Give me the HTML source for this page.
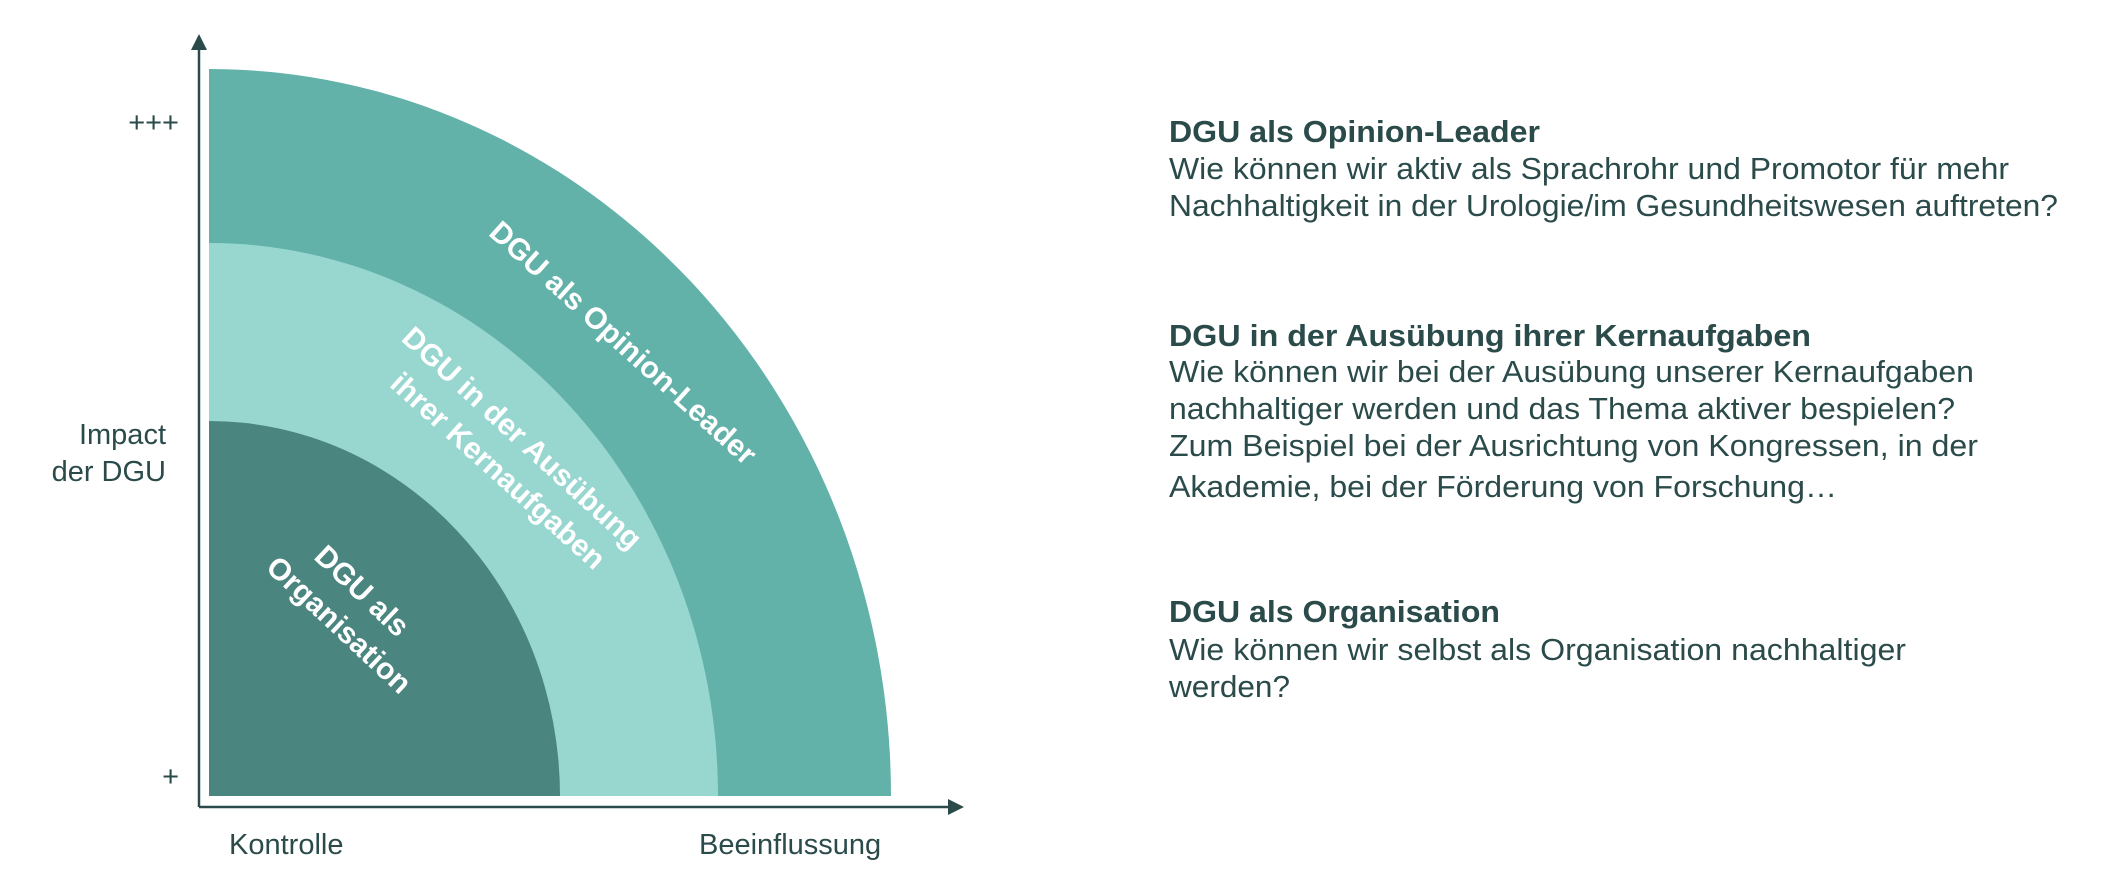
<!DOCTYPE html>
<html><head><meta charset="utf-8"><style>
html,body{margin:0;padding:0;background:#fff;}
svg{display:block;}
text{font-family:"Liberation Sans",Arial,sans-serif;}
</style></head><body>
<svg width="2122" height="886" viewBox="0 0 2122 886" xmlns="http://www.w3.org/2000/svg">
<path d="M209 796 V69 A682 727 0 0 1 891 796 Z" fill="#62b2aa"/>
<path d="M209 796 V243 A509 553 0 0 1 718 796 Z" fill="#98d6d0"/>
<path d="M209 796 V421 A351 375 0 0 1 560 796 Z" fill="#4a857f"/>
<g stroke="#2b4b4b" stroke-width="2.5" fill="none">
<line x1="199" y1="48" x2="199" y2="807"/>
<line x1="199" y1="807" x2="950" y2="807"/>
</g>
<polygon points="199,34 191,50 207,50" fill="#2b4b4b"/>
<polygon points="964,807 948,799 948,815" fill="#2b4b4b"/>
<g fill="#2b4b4b" font-size="29">
<text x="179" y="132" text-anchor="end">+++</text>
<text x="179" y="786" text-anchor="end">+</text>
<text x="166" y="444" text-anchor="end">Impact</text>
<text x="166" y="481" text-anchor="end">der DGU</text>
<text x="229" y="854">Kontrolle</text>
<text x="699" y="854">Beeinflussung</text>
</g>
<g fill="#fff" font-weight="bold" font-size="30" text-anchor="middle">
<text transform="translate(623,343) rotate(42)" y="10">DGU als Opinion-Leader</text>
<text transform="translate(522,438) rotate(42.5)" y="10">DGU in der  Ausübung</text>
<text transform="translate(498,471) rotate(42)" y="10">ihrer Kernaufgaben</text>
<text transform="translate(362,591) rotate(43.5)" y="10">DGU als</text>
<text transform="translate(339,625) rotate(43)" y="10">Organisation</text>
</g>
<g fill="#2b4b4b" font-size="31">
<text x="1169" y="142" font-weight="bold" textLength="371" lengthAdjust="spacingAndGlyphs">DGU als Opinion-Leader</text>
<text x="1169" y="179" textLength="840" lengthAdjust="spacingAndGlyphs">Wie können wir aktiv als Sprachrohr und Promotor für mehr</text>
<text x="1169" y="216" textLength="889" lengthAdjust="spacingAndGlyphs">Nachhaltigkeit in der Urologie/im Gesundheitswesen auftreten?</text>
<text x="1169" y="346" font-weight="bold" textLength="642" lengthAdjust="spacingAndGlyphs">DGU in der Ausübung ihrer Kernaufgaben</text>
<text x="1169" y="382" textLength="805" lengthAdjust="spacingAndGlyphs">Wie können wir bei der Ausübung unserer Kernaufgaben</text>
<text x="1169" y="419" textLength="786" lengthAdjust="spacingAndGlyphs">nachhaltiger werden und das Thema aktiver bespielen?</text>
<text x="1169" y="456" textLength="809" lengthAdjust="spacingAndGlyphs">Zum Beispiel bei der Ausrichtung von Kongressen, in der</text>
<text x="1169" y="497" textLength="668" lengthAdjust="spacingAndGlyphs">Akademie, bei der Förderung von Forschung…</text>
<text x="1169" y="622" font-weight="bold" textLength="331" lengthAdjust="spacingAndGlyphs">DGU als Organisation</text>
<text x="1169" y="660" textLength="737" lengthAdjust="spacingAndGlyphs">Wie können wir selbst als Organisation nachhaltiger</text>
<text x="1169" y="697" textLength="121" lengthAdjust="spacingAndGlyphs">werden?</text>
</g>
</svg>
</body></html>
